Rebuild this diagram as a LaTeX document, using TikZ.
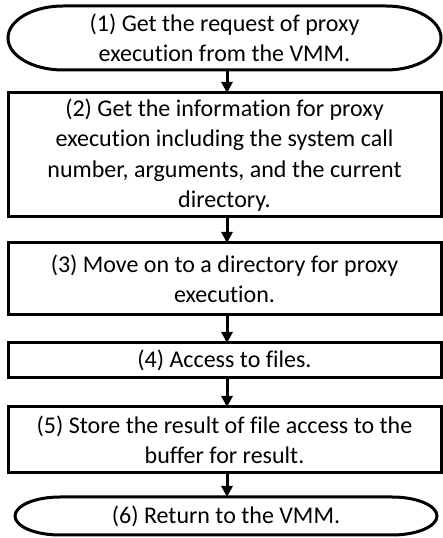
\documentclass[tikz,border=0pt]{standalone}
\usepackage{fontspec}
\setmainfont[Ligatures=NoCommon]{Carlito}
\usetikzlibrary{arrows.meta}
\begin{document}
\begin{tikzpicture}[x=1pt,y=1pt,
  every node/.style={font=\fontsize{24}{30.5}\selectfont, align=center, inner sep=0pt, outer sep=0pt},
  stepbox/.style={draw, line width=3pt, minimum width=433pt},
  termnode/.style={minimum width=#1},
  termline/.style={line width=3pt},
  flow/.style={line width=3pt, -{Triangle[length=11pt,width=11pt]}}
]
\useasboundingbox (0,0) rectangle (443,538);
% terminator 1
\node[termnode=433pt, minimum height=64pt] (t1) at (224.5,500) {(1) Get the request of proxy\\execution from the VMM.};
\draw[termline] ([xshift=55pt]t1.north west) -- ([xshift=-55pt]t1.north east)
  arc[start angle=90, end angle=-90, x radius=55pt, y radius=32pt]
  -- ([xshift=55pt]t1.south west)
  arc[start angle=270, end angle=90, x radius=55pt, y radius=32pt] -- cycle;
\node[stepbox, minimum height=124pt] (b2) at (224.5,383) {(2) Get the information for proxy\\execution including the system call\\number, arguments, and the current\\directory.};
\node[stepbox, minimum height=72pt] (b3) at (224.5,259) {(3) Move on to a directory for proxy\\execution.};
\node[stepbox, minimum height=35pt] (b4) at (224.5,177.5) {(4) Access to files.};
\node[stepbox, minimum height=66pt] (b5) at (224.5,98) {(5) Store the result of file access to the\\buffer for result.};
% terminator 6
\node[termnode=422pt, minimum height=38pt] (t6) at (226,22) {(6) Return to the VMM.};
\draw[termline] ([xshift=45pt]t6.north west) -- ([xshift=-45pt]t6.north east)
  arc[start angle=90, end angle=-90, x radius=45pt, y radius=19pt]
  -- ([xshift=45pt]t6.south west)
  arc[start angle=270, end angle=90, x radius=45pt, y radius=19pt] -- cycle;
% arrows
\draw[flow] ([xshift=2.5pt]t1.south) -- ([xshift=2.5pt]b2.north);
\draw[flow] ([xshift=2.5pt]b2.south) -- ([xshift=2.5pt]b3.north);
\draw[flow] ([xshift=2.5pt]b3.south) -- ([xshift=2.5pt]b4.north);
\draw[flow] ([xshift=2.5pt]b4.south) -- ([xshift=2.5pt]b5.north);
\draw[flow] ([xshift=2.5pt]b5.south) -- ([xshift=1pt]t6.north);
\end{tikzpicture}
\end{document}
